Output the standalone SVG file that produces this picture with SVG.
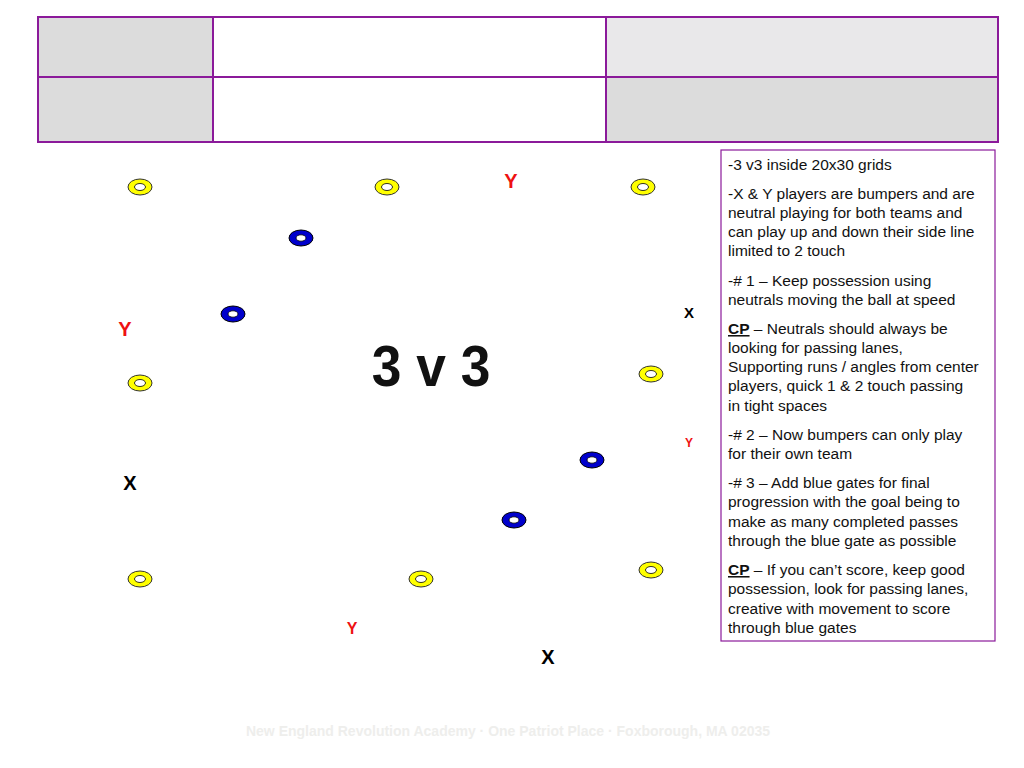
<svg xmlns="http://www.w3.org/2000/svg" width="1024" height="768" viewBox="0 0 1024 768">
<style>
.cell{stroke:#8b1a9a;stroke-width:2}
.cy{fill:#ffff00;stroke:#333;stroke-width:1}
.cb{fill:#0000cc;stroke:#000;stroke-width:1}
.hole{fill:#fff;stroke:#000;stroke-width:0.8}
.lbl{font-family:"Liberation Sans",Arial,sans-serif;font-weight:bold}
.t{font-family:"Liberation Sans",Arial,sans-serif;font-size:15.5px;fill:#111}
</style>
<rect width="1024" height="768" fill="#fff"/>
<g id="header">
<rect class="cell" x="38" y="17" width="175" height="60" fill="#dcdcdc"/>
<rect class="cell" x="213" y="17" width="393" height="60" fill="#fff"/>
<rect class="cell" x="606" y="17" width="392" height="60" fill="#e9e8ea"/>
<rect class="cell" x="38" y="77" width="175" height="65" fill="#dcdcdc"/>
<rect class="cell" x="213" y="77" width="393" height="65" fill="#fff"/>
<rect class="cell" x="606" y="77" width="392" height="65" fill="#dcdcdc"/>
</g>
<g id="cones">
<g id="y1"><ellipse class="cy" cx="140" cy="187" rx="12" ry="8"/><ellipse class="hole" cx="140" cy="187" rx="5.5" ry="3.5"/></g>
<g id="y2"><ellipse class="cy" cx="387" cy="187" rx="12" ry="8"/><ellipse class="hole" cx="387" cy="187" rx="5.5" ry="3.5"/></g>
<g id="y3"><ellipse class="cy" cx="643" cy="187" rx="12" ry="8"/><ellipse class="hole" cx="643" cy="187" rx="5.5" ry="3.5"/></g>
<g id="y4"><ellipse class="cy" cx="140" cy="383" rx="12" ry="8"/><ellipse class="hole" cx="140" cy="383" rx="5.5" ry="3.5"/></g>
<g id="y5"><ellipse class="cy" cx="651" cy="374" rx="12" ry="8"/><ellipse class="hole" cx="651" cy="374" rx="5.5" ry="3.5"/></g>
<g id="y6"><ellipse class="cy" cx="140" cy="579" rx="12" ry="8"/><ellipse class="hole" cx="140" cy="579" rx="5.5" ry="3.5"/></g>
<g id="y7"><ellipse class="cy" cx="421" cy="579" rx="12" ry="8"/><ellipse class="hole" cx="421" cy="579" rx="5.5" ry="3.5"/></g>
<g id="y8"><ellipse class="cy" cx="651" cy="570" rx="12" ry="8"/><ellipse class="hole" cx="651" cy="570" rx="5.5" ry="3.5"/></g>
<g id="b1"><ellipse class="cb" cx="301" cy="238" rx="12" ry="8"/><ellipse class="hole" cx="301" cy="238" rx="5" ry="3.2"/></g>
<g id="b2"><ellipse class="cb" cx="233" cy="314" rx="12" ry="8"/><ellipse class="hole" cx="233" cy="314" rx="5" ry="3.2"/></g>
<g id="b3"><ellipse class="cb" cx="592" cy="460" rx="12" ry="8"/><ellipse class="hole" cx="592" cy="460" rx="5" ry="3.2"/></g>
<g id="b4"><ellipse class="cb" cx="514" cy="520" rx="12" ry="8"/><ellipse class="hole" cx="514" cy="520" rx="5" ry="3.2"/></g>
</g>
<g id="players" class="lbl" text-anchor="middle">
<text x="511" y="188" font-size="20" fill="#ee1111">Y</text>
<text x="689" y="318" font-size="15" fill="#000">X</text>
<text x="125" y="336" font-size="20" fill="#ee1111">Y</text>
<text x="130" y="490" font-size="20" fill="#000">X</text>
<text x="689" y="447" font-size="12" fill="#ee1111">Y</text>
<text x="352" y="634" font-size="16" fill="#ee1111">Y</text>
<text x="548" y="664" font-size="20" fill="#000">X</text>
</g>
<text id="title" class="lbl" x="0" y="0" font-size="58" text-anchor="middle" fill="#111" transform="translate(431,386) scale(0.92,1)">3 v 3</text>
<g id="notes">
<rect x="721" y="150" width="274" height="491" fill="#fff" stroke="#8b1a9a" stroke-width="1.2"/>
<text class="t" x="728" y="170">-3 v3 inside 20x30 grids</text>
<text class="t" x="728" y="199">-X &amp; Y players are bumpers and are</text>
<text class="t" x="728" y="218">neutral playing for both teams and</text>
<text class="t" x="728" y="237">can play up and down their side line</text>
<text class="t" x="728" y="256">limited to 2 touch</text>
<text class="t" x="728" y="286">-# 1 – Keep possession using</text>
<text class="t" x="728" y="305">neutrals moving the ball at speed</text>
<text class="t" x="728" y="334"><tspan font-weight="bold" text-decoration="underline">CP</tspan> – Neutrals should always be</text>
<text class="t" x="728" y="353">looking for passing lanes,</text>
<text class="t" x="728" y="372">Supporting runs / angles from center</text>
<text class="t" x="728" y="391">players, quick 1 &amp; 2 touch passing</text>
<text class="t" x="728" y="411">in tight spaces</text>
<text class="t" x="728" y="440">-# 2 – Now bumpers can only play</text>
<text class="t" x="728" y="459">for their own team</text>
<text class="t" x="728" y="488">-# 3 – Add blue gates for final</text>
<text class="t" x="728" y="507">progression with the goal being to</text>
<text class="t" x="728" y="527">make as many completed passes</text>
<text class="t" x="728" y="546">through the blue gate as possible</text>
<text class="t" x="728" y="575"><tspan font-weight="bold" text-decoration="underline">CP</tspan> – If you can’t score, keep good</text>
<text class="t" x="728" y="594">possession, look for passing lanes,</text>
<text class="t" x="728" y="614">creative with movement to score</text>
<text class="t" x="728" y="633">through blue gates</text>
</g>
<text id="footer" x="508" y="736" text-anchor="middle" font-family="Liberation Sans,Arial,sans-serif" font-weight="bold" font-size="14" fill="#eeeeec">New England Revolution Academy · One Patriot Place · Foxborough, MA 02035</text>
</svg>
